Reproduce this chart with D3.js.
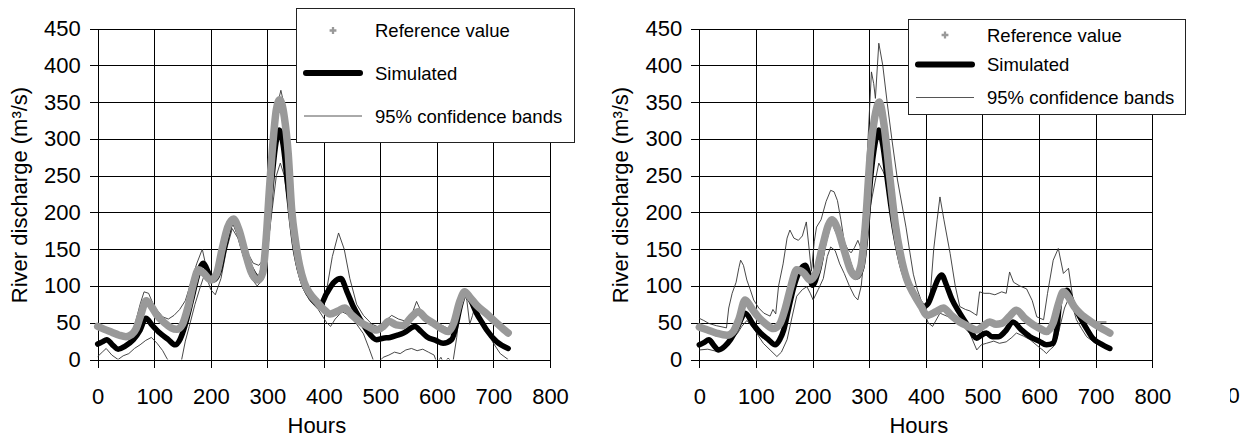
<!DOCTYPE html>
<html>
<head>
<meta charset="utf-8">
<script src="https://cdn.jsdelivr.net/npm/d3@7"></script>
<style>
  body { margin: 0; background: #fff; }
  svg { display: block; font-family: "Liberation Sans", Arial, sans-serif; }
</style>
</head>
<body>
<svg id="chart" width="1252" height="441"></svg>
<script>
// axis ticks
const hourTicks = [0, 100, 200, 300, 400, 500, 600, 700, 800];
const flowTicks = [0, 50, 100, 150, 200, 250, 300, 350, 400, 450];
const legendLabels = ["Reference value", "Simulated", "95% confidence bands"];

// left panel, [hour, m3/s]
const refLeft = [[0,45],[12,41],[25,37],[38,33],[50,31],[60,34],[68,42],[76,60],[86,80],[95,72],[105,60],[118,50],[130,43],[140,41],[150,48],[160,72],[170,105],[178,122],[188,117],[200,108],[210,116],[220,150],[230,180],[240,191],[250,176],[260,148],[272,118],[284,108],[292,118],[298,165],[304,235],[310,295],[316,340],[322,353],[330,330],[337,280],[343,205],[350,160],[357,128],[365,105],[375,90],[388,78],[400,68],[411,62],[425,66],[437,70],[450,60],[464,51],[478,45],[493,40],[505,45],[515,52],[528,47],[540,46],[553,56],[567,65],[580,56],[594,49],[608,42],[620,38],[630,50],[640,78],[649,92],[658,85],[670,74],[688,62],[705,50],[718,41],[726,36]];
const simLeft = [[0,21],[8,24],[16,27],[26,20],[36,14],[48,18],[63,27],[75,40],[85,56],[97,46],[110,36],[125,27],[137,20],[146,28],[154,45],[166,81],[178,118],[187,131],[196,118],[205,108],[215,120],[225,155],[238,188],[250,172],[262,140],[275,118],[285,110],[293,125],[300,175],[308,245],[315,293],[321,312],[328,292],[335,245],[342,195],[349,152],[357,122],[367,98],[380,82],[393,74],[405,90],[418,105],[430,110],[441,92],[452,72],[464,55],[476,40],[493,27],[505,29],[517,30],[530,33],[541,36],[561,45],[572,38],[582,31],[598,26],[611,22],[626,27],[635,50],[641,72],[650,90],[660,80],[670,63],[680,50],[688,40],[706,24],[726,15]];
const upLeft = [[0,46],[20,40],[40,35],[55,33],[65,45],[75,75],[82,92],[90,90],[100,72],[115,58],[125,55],[135,60],[145,68],[155,80],[165,105],[175,130],[185,150],[192,125],[198,108],[210,118],[222,152],[232,180],[240,192],[250,176],[262,150],[275,131],[285,128],[292,135],[300,190],[308,270],[316,340],[324,366],[330,345],[337,290],[344,225],[351,170],[359,130],[369,105],[382,85],[395,76],[405,95],[415,140],[426,172],[436,150],[446,110],[458,75],[470,60],[485,48],[497,44],[508,52],[520,60],[532,55],[545,52],[556,62],[564,79],[575,60],[590,52],[605,48],[620,42],[632,60],[642,85],[650,96],[660,88],[670,80],[685,65],[700,53],[715,44],[726,38]];
const loLeft = [[0,4],[8,10],[15,15],[25,6],[36,0],[45,5],[55,8],[65,15],[75,20],[85,26],[95,30],[105,22],[115,12],[122,2],[128,-5],[140,-10],[148,-2],[155,25],[162,45],[172,75],[182,100],[190,118],[200,95],[208,88],[218,110],[228,150],[238,178],[248,165],[258,140],[270,112],[282,100],[292,108],[300,150],[308,200],[316,250],[323,267],[330,250],[337,210],[344,165],[352,125],[362,98],[375,80],[390,68],[405,50],[412,45],[420,55],[432,65],[445,60],[458,48],[470,35],[480,15],[488,-2],[495,-5],[505,3],[515,6],[525,10],[535,8],[545,13],[555,15],[565,12],[575,14],[585,10],[595,6],[600,-5],[607,3],[612,-5],[620,2],[628,-5],[635,30],[641,75],[648,92],[653,80],[658,48],[663,60],[668,75],[676,60],[688,38],[700,22],[712,8],[726,0]];

// right panel
const refRight = [[0,44],[15,40],[30,36],[49,33],[60,38],[70,55],[81,81],[92,70],[105,57],[118,48],[131,42],[142,48],[152,70],[162,100],[172,122],[184,118],[196,108],[206,118],[218,155],[228,183],[234,190],[244,178],[256,148],[268,120],[276,113],[285,126],[293,180],[302,280],[310,330],[318,350],[326,320],[337,244],[346,185],[355,144],[366,110],[378,90],[392,72],[402,60],[418,65],[431,70],[445,60],[460,51],[475,45],[490,40],[502,46],[513,51],[524,48],[534,49],[547,58],[560,67],[575,56],[590,47],[602,42],[613,38],[625,50],[634,75],[643,92],[652,85],[662,72],[672,63],[685,55],[700,47],[713,41],[725,36]];
const simRight = [[0,20],[8,23],[17,27],[25,20],[34,13],[45,18],[55,27],[68,45],[81,63],[95,48],[108,36],[122,27],[134,20],[142,27],[149,40],[158,70],[167,99],[177,120],[187,128],[194,115],[200,101],[210,120],[222,165],[234,188],[246,172],[258,145],[270,118],[278,112],[287,125],[295,175],[303,250],[310,292],[317,312],[324,292],[332,245],[340,200],[350,155],[360,122],[372,98],[385,82],[396,72],[404,76],[414,95],[422,110],[428,115],[436,102],[446,82],[460,63],[475,45],[490,29],[498,33],[507,36],[517,31],[528,31],[540,38],[554,51],[568,41],[584,31],[600,25],[613,20],[625,22],[632,45],[637,81],[649,94],[660,75],[672,58],[684,42],[695,29],[710,21],[725,15]];
const upRight = [[0,56],[8,53],[17,49],[30,46],[48,43],[52,70],[58,90],[65,105],[70,125],[73,135],[78,128],[84,108],[90,95],[96,81],[105,70],[114,63],[125,59],[130,68],[135,62],[140,100],[148,130],[155,165],[160,176],[167,165],[175,162],[182,168],[189,187],[194,150],[198,120],[203,160],[207,180],[215,190],[224,215],[232,230],[238,228],[244,216],[250,190],[256,160],[262,150],[268,145],[274,152],[280,162],[286,150],[292,200],[298,300],[304,391],[308,375],[311,355],[317,430],[324,400],[332,348],[340,300],[350,244],[358,210],[365,180],[372,145],[378,116],[385,95],[392,80],[400,72],[408,90],[414,150],[420,190],[425,221],[432,190],[443,144],[452,100],[460,72],[470,68],[478,66],[486,62],[490,60],[495,92],[503,90],[512,90],[522,88],[534,92],[542,90],[548,119],[555,105],[566,100],[578,96],[588,80],[596,58],[608,54],[615,90],[625,135],[634,151],[643,117],[652,124],[661,76],[672,58],[684,52],[700,51],[719,51]];
const loRight = [[0,13],[15,14],[31,11],[45,18],[55,25],[67,35],[75,45],[84,53],[93,45],[102,35],[113,22],[125,13],[137,4],[145,10],[155,27],[163,55],[172,86],[182,95],[190,99],[196,90],[201,81],[210,95],[219,110],[226,140],[232,153],[240,148],[248,130],[256,117],[265,100],[274,86],[280,81],[286,100],[291,141],[296,170],[302,208],[310,240],[317,267],[325,255],[332,240],[340,190],[350,150],[358,125],[368,100],[385,81],[395,70],[404,50],[412,45],[425,63],[434,60],[443,57],[455,50],[466,45],[478,35],[490,13],[498,20],[507,22],[520,25],[530,22],[542,24],[552,30],[560,36],[572,32],[584,27],[598,18],[608,12],[613,8],[620,14],[625,17],[632,30],[637,45],[645,70],[654,86],[660,70],[666,54],[675,42],[684,31],[700,22],[719,15]];

const svg = d3.select("#chart");
const plotTop = 28.5, plotBottom = 359.5;

const panels = [
  { id: "a", x0: 97.7, x1: 550, ref: refLeft, sim: simLeft, up: upLeft, lo: loLeft, yTitleX: 27,
    legend: { x: 296, y: 7.5, w: 278, h: 134, rows: [30.5, 73, 116] } },
  { id: "b", x0: 699.3, x1: 1152.3, ref: refRight, sim: simRight, up: upRight, lo: loRight, yTitleX: 628,
    legend: { x: 908, y: 18.5, w: 277, h: 95, rows: [35, 64.5, 97.5] } }
];

panels.forEach(function(p){
  const x = d3.scaleLinear().domain([0, 800]).range([p.x0, p.x1]);
  const y = d3.scaleLinear().domain([0, 450]).range([plotBottom, plotTop]);
  const g = svg.append("g");

  // grid + tick labels
  g.append("g")
    .attr("transform", `translate(${p.x0 - 8},0)`)
    .call(d3.axisLeft(y).tickValues(flowTicks).tickSize(-(p.x1 - p.x0 + 8)).tickPadding(9))
    .call(a => a.select(".domain").remove())
    .attr("font-size", 22).attr("font-family", null)
    .call(a => a.selectAll("line").attr("stroke", "#000").attr("shape-rendering", "crispEdges"))
    .call(a => a.selectAll("text").attr("fill", "#000"));

  g.append("g")
    .attr("transform", `translate(0,${plotBottom + 8.5})`)
    .call(d3.axisBottom(x).tickValues(hourTicks).tickSize(-(plotBottom + 8.5 - plotTop)).tickPadding(20))
    .call(a => a.select(".domain").remove())
    .attr("font-size", 22).attr("font-family", null)
    .call(a => a.selectAll("line").attr("stroke", "#000").attr("shape-rendering", "crispEdges"))
    .call(a => a.selectAll("text").attr("fill", "#000"));

  // axis titles
  g.append("text")
    .attr("transform", `translate(${p.yTitleX},${(plotTop + plotBottom) / 2 + 1}) rotate(-90)`)
    .attr("text-anchor", "middle").attr("font-size", 22)
    .text("River discharge (m³/s)");
  g.append("text")
    .attr("x", (p.x0 + p.x1) / 2 - 7).attr("y", 433)
    .attr("text-anchor", "middle").attr("font-size", 22)
    .text("Hours");

  // series
  g.append("clipPath").attr("id", "clip-" + p.id)
    .append("rect").attr("x", p.x0 - 10).attr("y", plotTop).attr("width", p.x1 - p.x0 + 10).attr("height", plotBottom - plotTop);
  const series = g.append("g").attr("clip-path", `url(#clip-${p.id})`);

  const thin = d3.line().x(d => x(d[0])).y(d => y(d[1]));
  const smooth = d3.line().x(d => x(d[0])).y(d => y(d[1])).curve(d3.curveMonotoneX);

  [p.up, p.lo].forEach(function(band){
    series.append("path").attr("d", thin(band))
      .attr("fill", "none").attr("stroke", "#333").attr("stroke-width", 0.9);
  });
  series.append("path").attr("d", smooth(p.sim))
    .attr("fill", "none").attr("stroke", "#000").attr("stroke-width", 5.5)
    .attr("stroke-linecap", "round").attr("stroke-linejoin", "round");
  series.append("path").attr("d", smooth(p.ref))
    .attr("fill", "none").attr("stroke", "#999").attr("stroke-width", 7.5)
    .attr("stroke-linecap", "round").attr("stroke-linejoin", "round");

  // legend
  const L = p.legend;
  const lg = g.append("g").attr("transform", `translate(${L.x},${L.y})`);
  lg.append("rect").attr("x", 0.5).attr("y", 0.5).attr("width", L.w).attr("height", L.h)
    .attr("fill", "#fff").attr("stroke", "#222").attr("stroke-width", 1)
    .attr("shape-rendering", "crispEdges");
  const r = L.rows.map(v => v - L.y);
  lg.append("path").attr("d", d3.symbol(d3.symbolCross, 26)())
    .attr("transform", `translate(37,${r[0]})`).attr("fill", "#999");
  lg.append("line").attr("x1", 10).attr("x2", 64).attr("y1", r[1]).attr("y2", r[1])
    .attr("stroke", "#000").attr("stroke-width", 6).attr("stroke-linecap", "round");
  lg.append("line").attr("x1", 8).attr("x2", 66).attr("y1", r[2]).attr("y2", r[2])
    .attr("stroke", "#555").attr("stroke-width", 1);
  lg.selectAll("text.legend").data(legendLabels).enter().append("text")
    .attr("class", "legend")
    .attr("x", 79).attr("y", (d, i) => r[i] + 6.5)
    .attr("font-size", 18.5)
    .text(d => d);
});

// cut-off label at the right edge of the picture
svg.append("clipPath").attr("id", "clip-edge")
  .append("rect").attr("x", 1230).attr("y", 380).attr("width", 30).attr("height", 40);
svg.append("text").attr("clip-path", "url(#clip-edge)")
  .attr("x", 1227.5).attr("y", 403).attr("font-size", 22).text("0");
</script>
</body>
</html>
